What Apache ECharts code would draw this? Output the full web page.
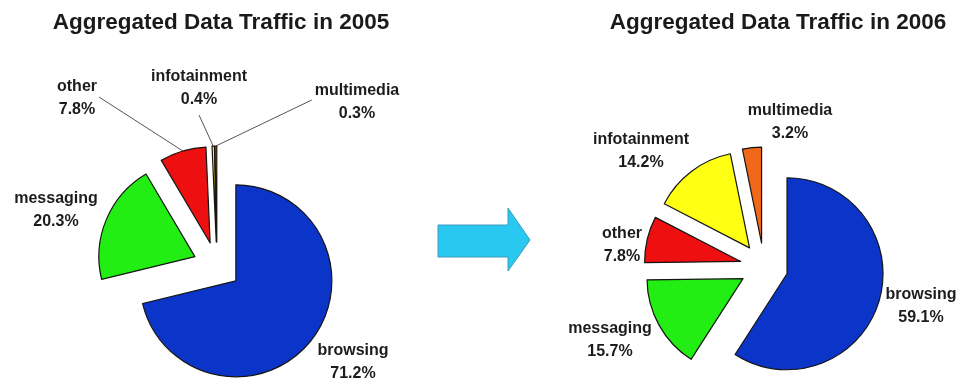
<!DOCTYPE html>
<html>
<head>
<meta charset="utf-8">
<script src="https://cdn.jsdelivr.net/npm/echarts@6/dist/echarts.min.js"></script>
<style>
  html, body { margin: 0; padding: 0; background: #ffffff; }
  #chart { width: 963px; height: 385px; }
</style>
</head>
<body>
<div id="chart"></div>
<script>
// Traffic share by category (percent), listed clockwise from 12 o'clock
const categories = ['browsing', 'messaging', 'other', 'infotainment', 'multimedia'];
const share2005 = [71.2, 20.3, 7.8, 0.4, 0.3];
const share2006 = [59.1, 15.7, 7.8, 14.2, 3.2];
const titles = ['Aggregated Data Traffic in 2005', 'Aggregated Data Traffic in 2006'];

// Slice colours per category
const sliceColors = ['#0b35c8', '#22ee14', '#ee1010', '#ffff14', '#f06818'];

// Label centres per pie, per category
const labelPos = [
  [[353, 362], [56, 210], [77, 98], [199, 88], [357, 102]],
  [[921, 306], [610, 340], [622, 245], [641, 151], [790, 122]]
];
// Where a leader line meets its label (null = no leader line)
const leaderAnchor = [
  [null, null, 'right', 'bottom', 'left'],
  [null, null, null, null, null]
];

const EXPLODE = 24;
const FONT = '"Liberation Sans", Arial, sans-serif';
const labelText = {
  fontFamily: FONT,
  fontSize: 16,
  fontWeight: 'bold',
  lineHeight: 23,
  color: '#1c1c1c',
  align: 'center'
};
const seriesValues = [share2005, share2006];

// Pulled-out slices carry their label with them; this is that shift for one slice.
function explodeShift(values, idx) {
  const total = values.reduce((a, b) => a + b, 0);
  let before = 0;
  for (let i = 0; i < idx; i++) before += values[i];
  const theta = ((before + values[idx] / 2) / total) * Math.PI * 2;
  return [EXPLODE * Math.sin(theta), -EXPLODE * Math.cos(theta)];
}

function buildData(values, seriesIdx) {
  return categories.map((name, i) => ({
    name: name,
    value: values[i],
    selected: true,
    itemStyle: { color: sliceColors[i] },
    labelLine: { show: leaderAnchor[seriesIdx][i] !== null }
  }));
}

function placeLabel(params) {
  const s = params.seriesIndex, d = params.dataIndex;
  const shift = explodeShift(seriesValues[s], d);
  const target = labelPos[s][d];
  const r = params.labelRect;
  const out = {
    dx: target[0] - shift[0] - (r.x + r.width / 2),
    dy: target[1] - shift[1] - (r.y + r.height / 2)
  };
  const side = leaderAnchor[s][d];
  const pts = params.labelLinePoints;
  if (side && pts && pts.length) {
    const hw = r.width / 2, hh = r.height / 2;
    let end;
    if (side === 'right') end = [target[0] + hw + 2, target[1] - 1];
    else if (side === 'left') end = [target[0] - hw - 3, target[1] - 2];
    else end = [target[0], target[1] + hh + 4];
    end = [end[0] - shift[0], end[1] - shift[1]];
    const start = pts[0];
    const mid = [(start[0] + end[0]) / 2, (start[1] + end[1]) / 2];
    out.labelLinePoints = [start, mid, end];
  }
  return out;
}

function pieSeries(values, seriesIdx, center) {
  return {
    type: 'pie',
    center: center,
    radius: 96,
    startAngle: 90,
    clockwise: true,
    selectedMode: 'multiple',
    selectedOffset: EXPLODE,
    avoidLabelOverlap: false,
    silent: true,
    animation: false,
    itemStyle: { borderColor: '#151515', borderWidth: 1.2 },
    label: {
      show: true,
      position: 'outside',
      formatter: '{n|{b}}\n{n|{c}%}',
      rich: { n: labelText },
      fontFamily: FONT,
      fontSize: 16,
      fontWeight: 'bold',
      lineHeight: 23,
      color: '#1c1c1c'
    },
    labelLine: {
      show: true,
      length: 10,
      length2: 10,
      lineStyle: { color: '#555555', width: 1 }
    },
    labelLayout: placeLabel,
    emphasis: { disabled: true },
    data: buildData(values, seriesIdx)
  };
}

const chart = echarts.init(document.getElementById('chart'), null, { renderer: 'canvas' });

const titleStyle = { fontFamily: FONT, fontSize: 22.5, fontWeight: 'bold', color: '#1a1a1a' };

chart.setOption({
  backgroundColor: '#ffffff',
  animation: false,
  title: [
    { text: titles[0], left: 216, top: 6, textAlign: 'center', textStyle: titleStyle },
    { text: titles[1], left: 773, top: 6, textAlign: 'center', textStyle: titleStyle }
  ],
  // Transition arrow between the two years
  graphic: [
    {
      type: 'polygon',
      shape: {
        points: [[438, 225], [508, 225], [508, 208], [530, 240], [508, 271], [508, 257], [438, 257]]
      },
      style: { fill: '#28c8f0', stroke: '#3a9cbc', lineWidth: 1 }
    }
  ],
  series: [
    pieSeries(share2005, 0, [217, 266]),
    pieSeries(share2006, 1, [764, 267])
  ]
});
</script>
</body>
</html>
